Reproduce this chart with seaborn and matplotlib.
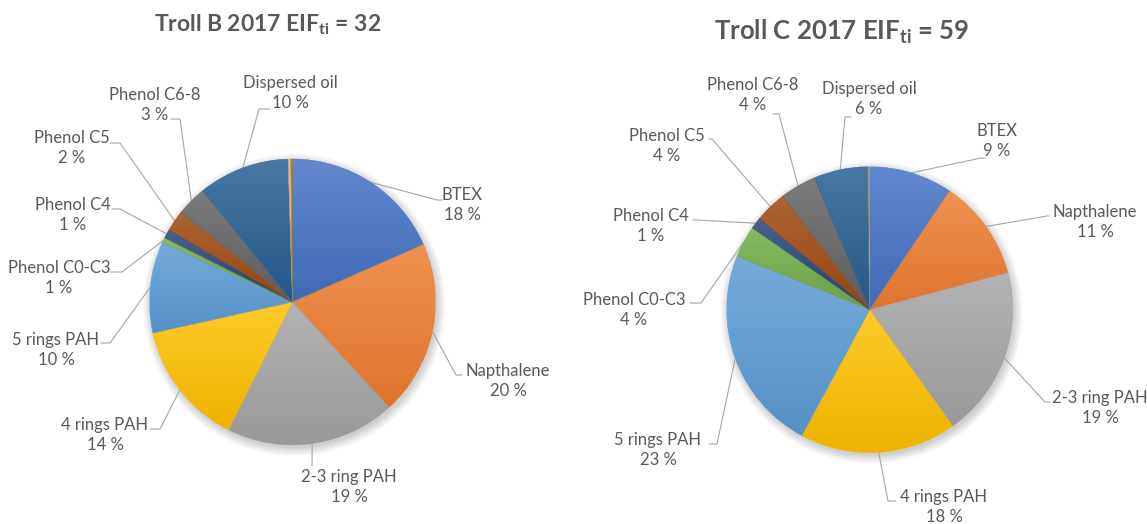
import numpy as np
import matplotlib
matplotlib.use("Agg")
import matplotlib.pyplot as plt
import matplotlib.colors as mcolors
from matplotlib.patches import Circle
import seaborn as sns

# ---- data ----
categories = ["BTEX", "Napthalene", "2-3 ring PAH", "4 rings PAH", "5 rings PAH",
              "Phenol C0-C3", "Phenol C4", "Phenol C5", "Phenol C6-8", "Dispersed oil"]
troll_b_share = [18.4, 19.8, 19.2, 14.1, 10.3, 0.6, 1.0, 2.4, 3.4, 10.3]
troll_c_share = [9.4, 11.4, 19.3, 17.7, 23.2, 3.6, 1.3, 3.6, 4.1, 6.0]
# two unlabelled hair-thin slices at the end of each pie
troll_b_rest = [0.3, 0.2]
troll_c_rest = [0.2, 0.1]
platforms = ["Troll B", "Troll C"]
year = 2017
eif_values = [32, 59]

# Excel office palette
slice_colors = ["#4472C4", "#ED7D31", "#A5A5A5", "#FFC000", "#5B9BD5",
                "#70AD47", "#264478", "#9E480E", "#636363", "#255E91"]
rest_colors_b = ["#F4B183", "#997300"]
rest_colors_c = ["#9E6A3A", "#7CAFDD"]

W, H = 1147, 524
TEXT = "#595959"
LEADER = "#A6A6A6"

sns.set_theme(style="white")
plt.rcParams["font.family"] = ["Lato", "DejaVu Sans"]
plt.rcParams["mathtext.fontset"] = "custom"
plt.rcParams["mathtext.rm"] = "Lato"
plt.rcParams["mathtext.bf"] = "Lato:bold"

# layout in picture pixels (y down): pie centre / radius, label centres, leader elbows
pie_geom = [((292.5, 302.0), 143.0), ((869.7, 309.7), 143.0)]
title_pos = [((268, 25), 16.5), ((842, 32), 18.5)]
label_xy_b = [(462, 205), (508, 381), (349, 487), (105, 435), (56, 350),
              (59, 278), (73, 215), (72, 148), (155, 105), (290, 93)]
elbow_b = [(437, 200, 442), (456, 375, 462), (312, 466, 312), (160, 429, 150), (110, 343, 101),
           (122, 272, 110), (120, 209, 112), (120, 143, 110), (180, 119, 171), (259, 109, 270)]
label_xy_c = [(997, 141), (1095, 222), (1100, 408), (944, 507), (658, 450),
              (634, 310), (651, 226), (667, 146), (753, 95), (869, 99)]
elbow_c = [(981, 158, 985), (1047, 216, 1049), (1045, 402, 1050), (888, 501, 896), (717, 444, 709),
           (701, 303, 690), (697, 220, 693), (712, 139, 709), (779, 114, 773), (845, 117, 851)]


def mix(c, other, f):
    a = np.array(mcolors.to_rgb(c))
    b = np.array(mcolors.to_rgb(other))
    return tuple(a * (1 - f) + b * f)


def gradient_fill(ax, wedge, color):
    bb = wedge.get_path().get_extents()
    top = mix(color, "white", 0.16)
    bottom = mix(color, "black", 0.07)
    t = np.linspace(0, 1, 128)[:, None]
    img = np.array(top)[None, :] * (1 - t) + np.array(bottom)[None, :] * t
    img = img[:, None, :]
    im = ax.imshow(img, extent=[bb.x0, bb.x1, bb.y0, bb.y1], origin="upper",
                   aspect="auto", interpolation="bilinear", zorder=2)
    im.set_clip_path(wedge)
    wedge.set_edgecolor(mix(color, "black", 0.02))
    wedge.set_linewidth(0.3)
    wedge.set_zorder(3)
    wedge.set_facecolor("none")


def draw_pie(fig, idx, share, rest, rest_colors, label_xy, elbows):
    (cx, cy), r = pie_geom[idx]
    L = 2.4
    size = 2 * L * r
    ax = fig.add_axes([(cx - L * r) / W, (H - cy - L * r) / H, size / W, size / H])
    values = list(share) + list(rest)
    colors = slice_colors + rest_colors
    wedges, _ = ax.pie(values, colors=colors, startangle=90, counterclock=False,
                       radius=1.0, wedgeprops=dict(linewidth=0))
    # soft shadow behind the pie
    for k in range(8):
        ax.add_patch(Circle((0.012, -0.02), 1.0 + 0.008 * k, color="black",
                            alpha=0.025, lw=0, zorder=0))
    for w, c in zip(wedges, colors):
        gradient_fill(ax, w, c)

    total = sum(values)
    for i, name in enumerate(categories):
        w = wedges[i]
        mid = np.deg2rad((w.theta1 + w.theta2) / 2)
        rx, ry = np.cos(mid), np.sin(mid)
        ex, ey, sx = elbows[i]
        ex, ey, sx = (ex - cx) / r, -(ey - cy) / r, (sx - cx) / r
        ax.plot([rx, ex, sx], [ry, ey, ey], color=LEADER, lw=0.8, zorder=1,
                clip_on=False, solid_joinstyle="miter")
        tx, ty = label_xy[i]
        pct = round(share[i] / total * 100)
        ax.text((tx - cx) / r, -(ty - cy) / r, f"{name}\n{pct} %", ha="center", va="center",
                fontsize=12, color=TEXT, linespacing=1.32, clip_on=False)

    ax.set_xlim(-L, L)
    ax.set_ylim(-L, L)
    ax.set_aspect("equal")
    ax.axis("off")

    (tx, ty), fs = title_pos[idx]
    fig.text(tx / W, 1 - ty / H,
             f"{platforms[idx]} {year} EIF" + r"$_{\mathbf{ti}}$" + f" = {eif_values[idx]}",
             ha="center", va="center", fontsize=fs, fontweight="bold", color=TEXT)


fig = plt.figure(figsize=(W / 100, H / 100), dpi=100)
fig.patch.set_facecolor("white")
draw_pie(fig, 0, troll_b_share, troll_b_rest, rest_colors_b, label_xy_b, elbow_b)
draw_pie(fig, 1, troll_c_share, troll_c_rest, rest_colors_c, label_xy_c, elbow_c)
fig.savefig("out.png", dpi=100)
